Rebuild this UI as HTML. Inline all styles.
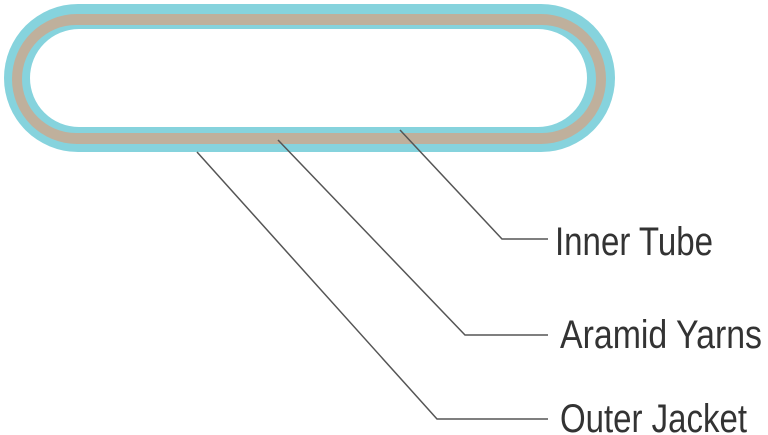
<!DOCTYPE html>
<html><head><style>html,body{margin:0;padding:0;background:#fff;width:768px;height:435px;overflow:hidden}</style></head>
<body>
<svg width="768" height="435" viewBox="0 0 768 435" xmlns="http://www.w3.org/2000/svg">
<rect x="4" y="4" width="611" height="148" rx="74" fill="#86d3dd"/>
<rect x="12" y="14" width="594" height="130" rx="65" fill="#bfb09c"/>
<rect x="22" y="25" width="574" height="108" rx="54" fill="#86d3dd"/>
<rect x="30" y="29" width="557" height="98" rx="49" fill="#fff"/>
<g stroke="#555" stroke-width="1.5" fill="none">
<polyline points="400,130 502,239 548,239"/>
<polyline points="278,140 465,335 548,335"/>
<polyline points="197,152 437,419 548,419"/>
</g>
<g font-family="Liberation Sans, sans-serif" font-size="40" fill="#333">
<text x="555" y="255" textLength="158" lengthAdjust="spacingAndGlyphs">Inner Tube</text>
<text x="560" y="348" textLength="202" lengthAdjust="spacingAndGlyphs">Aramid Yarns</text>
<text x="560" y="432" textLength="187" lengthAdjust="spacingAndGlyphs">Outer Jacket</text>
</g>
</svg>
</body></html>
